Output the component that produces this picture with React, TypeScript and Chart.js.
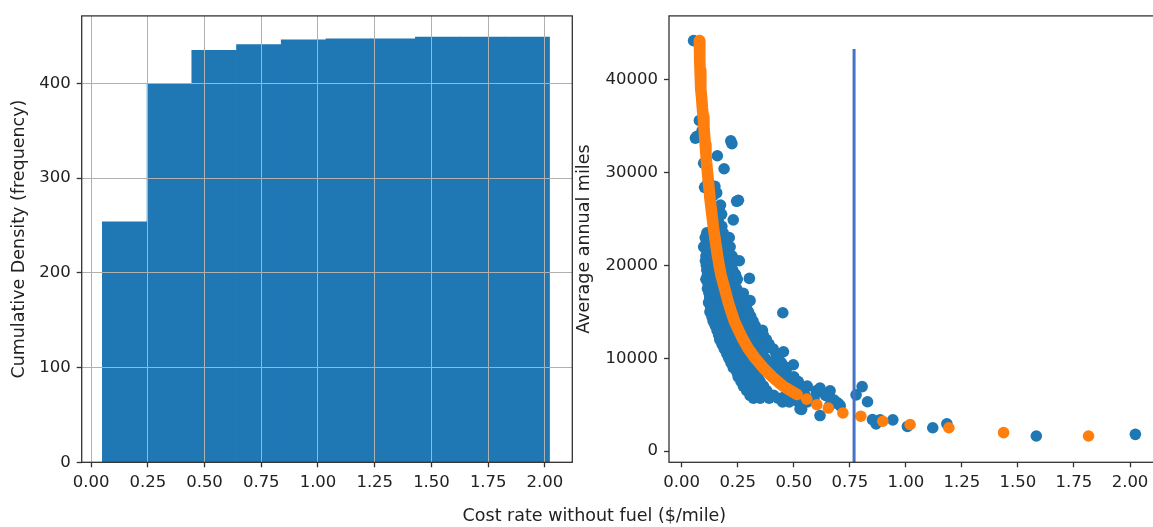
import React, { useEffect, useRef } from 'react';
import { Chart, registerables } from 'chart.js';

Chart.register(...registerables);

// ---------- Left panel: cumulative histogram ----------
const binEdges = [0.05, 0.247, 0.444, 0.641, 0.838, 1.035, 1.232, 1.429, 1.626, 1.823, 2.02];
const cumulativeCounts = [254, 400, 435, 441, 446, 447, 447, 449, 449, 449];
const histXTicks = [0, 0.25, 0.5, 0.75, 1.0, 1.25, 1.5, 1.75, 2.0];
const histYTicks = [0, 100, 200, 300, 400];

// ---------- Right panel: scatter ----------
const scatterXTicks = [0, 0.25, 0.5, 0.75, 1.0, 1.25, 1.5, 1.75, 2.0];
const scatterYTicks = [0, 10000, 20000, 30000, 40000];

// observed vehicles (cost rate, annual miles)
const observedPoints: [number, number][] = [
  [0.053, 44200], [0.079, 35600], [0.061, 33700], [0.068, 33900], [0.219, 33400], [0.224, 33100],
  [0.159, 31800], [0.189, 30400], [0.102, 28400], [0.108, 28500], [0.156, 27800], [0.148, 28500],
  [0.140, 27500], [0.245, 26900], [0.253, 27000], [0.230, 24900], [0.173, 26500], [0.168, 26000],
  [0.178, 25500], [0.179, 24200], [0.163, 24800], [0.152, 26300], [0.118, 29000], [0.125, 27500],
  [0.098, 31000], [0.091, 34500],
  [0.112, 23500], [0.128, 23500], [0.160, 23500], [0.185, 23500],
  [0.105, 23000], [0.120, 23000], [0.168, 23000], [0.195, 23000], [0.212, 23000],
  [0.110, 22500], [0.130, 22500], [0.172, 22500], [0.200, 22500],
  [0.098, 22000], [0.104, 22000], [0.120, 22000], [0.175, 22000], [0.198, 22000], [0.216, 22000],
  [0.112, 21500], [0.128, 21500], [0.180, 21500], [0.205, 21500],
  [0.108, 21000], [0.125, 21000], [0.182, 21000], [0.208, 21000], [0.225, 21000],
  [0.106, 20500], [0.119, 20500], [0.140, 20500], [0.190, 20500], [0.220, 20500], [0.240, 20500], [0.257, 20500],
  [0.110, 20000], [0.128, 20000], [0.145, 20000], [0.192, 20000], [0.215, 20000],
  [0.112, 19500], [0.130, 19500], [0.198, 19500], [0.228, 19500],
  [0.115, 19000], [0.132, 19000], [0.150, 19000], [0.202, 19000], [0.222, 19000], [0.240, 19000],
  [0.108, 18500], [0.126, 18500], [0.150, 18500], [0.212, 18500], [0.248, 18500],
  [0.118, 18000], [0.140, 18000], [0.158, 18000], [0.215, 18000], [0.235, 18000], [0.302, 18600],
  [0.115, 17500], [0.135, 17500], [0.160, 17500], [0.222, 17500], [0.245, 17500],
  [0.122, 17000], [0.145, 17000], [0.168, 17000], [0.228, 17000], [0.258, 17000], [0.275, 17000],
  [0.125, 16500], [0.150, 16500], [0.172, 16500], [0.238, 16500], [0.268, 16500],
  [0.120, 16000], [0.155, 16000], [0.180, 16000], [0.245, 16000], [0.278, 16000], [0.305, 16200],
  [0.130, 15500], [0.160, 15500], [0.185, 15500], [0.252, 15500], [0.288, 15500],
  [0.126, 15000], [0.134, 15000], [0.170, 15000], [0.195, 15000], [0.262, 15000], [0.298, 15000], [0.451, 14900],
  [0.135, 14500], [0.175, 14500], [0.200, 14500], [0.270, 14500], [0.308, 14500],
  [0.140, 14000], [0.180, 14000], [0.208, 14000], [0.280, 14000], [0.318, 14000],
  [0.150, 13500], [0.190, 13500], [0.215, 13500], [0.290, 13500], [0.328, 13500],
  [0.158, 13000], [0.198, 13000], [0.225, 13000], [0.298, 13000], [0.342, 13000], [0.360, 13000],
  [0.165, 12500], [0.205, 12500], [0.235, 12500], [0.310, 12500], [0.364, 12500],
  [0.170, 12000], [0.212, 12000], [0.245, 12000], [0.318, 12000], [0.350, 12000], [0.378, 12000],
  [0.180, 11500], [0.222, 11500], [0.255, 11500], [0.330, 11500], [0.390, 11500],
  [0.190, 11000], [0.230, 11000], [0.265, 11000], [0.342, 11000], [0.372, 11000], [0.408, 11000],
  [0.201, 10500], [0.242, 10500], [0.278, 10500], [0.358, 10500], [0.420, 10500], [0.454, 10700],
  [0.210, 10000], [0.252, 10000], [0.290, 10000], [0.372, 10000], [0.432, 10000],
  [0.220, 9500], [0.262, 9500], [0.300, 9500], [0.385, 9500], [0.410, 9700], [0.445, 9500], [0.498, 9300],
  [0.230, 9000], [0.272, 9000], [0.312, 9000], [0.400, 9000], [0.440, 9000], [0.470, 9000],
  [0.246, 8500], [0.285, 8500], [0.325, 8500], [0.418, 8500], [0.460, 8500],
  [0.252, 8000], [0.295, 8000], [0.340, 8000], [0.435, 8000], [0.480, 8000], [0.500, 8000],
  [0.265, 7500], [0.305, 7500], [0.350, 7500], [0.455, 7500], [0.520, 7500],
  [0.275, 7000], [0.315, 7000], [0.365, 7000], [0.480, 7000], [0.530, 7000], [0.560, 7000],
  [0.290, 6500], [0.330, 6500], [0.380, 6500], [0.500, 6500], [0.542, 6500], [0.600, 6500], [0.662, 6500], [0.609, 6400], [0.658, 6250],
  [0.305, 6000], [0.330, 6000], [0.379, 6300], [0.410, 6000], [0.454, 5800], [0.550, 6000], [0.617, 6800], [0.642, 6000], [0.778, 6060],
  [0.320, 5700], [0.350, 5700], [0.390, 5700], [0.430, 5700], [0.470, 5700], [0.500, 5700], [0.590, 5700],
  [0.450, 5300], [0.480, 5300], [0.520, 5300], [0.560, 5300], [0.692, 5240], [0.829, 5320],
  [0.660, 4900], [0.707, 4890], [0.528, 4540], [0.535, 4500], [0.617, 3830], [0.700, 5100], [0.680, 5500],
  [0.805, 6950], [0.851, 3400], [0.867, 2940], [0.885, 3370], [0.942, 3370], [1.007, 2660],
  [1.120, 2520], [1.183, 2940], [1.582, 1630], [2.024, 1810],
];

// fitted curve (dense part, drawn as a thick band) and its isolated points
const fittedDense: [number, number][] = [
  [0.079, 44200], [0.080, 43000], [0.081, 42000], [0.082, 41000], [0.084, 40000], [0.086, 39000],
  [0.089, 38000], [0.092, 37000], [0.096, 36000], [0.099, 35000], [0.102, 34000], [0.105, 33000],
  [0.108, 32000], [0.111, 31000], [0.115, 30000], [0.119, 29000], [0.123, 28000], [0.127, 27000],
  [0.132, 26000], [0.137, 25000], [0.142, 24000], [0.148, 23000], [0.154, 22000], [0.160, 21000],
  [0.167, 20000], [0.175, 19000], [0.186, 18000], [0.197, 17000], [0.208, 16000], [0.221, 15000],
  [0.235, 14000], [0.254, 13000], [0.274, 12000], [0.298, 11000], [0.328, 10000], [0.363, 9000],
  [0.404, 8000], [0.452, 7000], [0.515, 6100],
];
const fittedSparse: [number, number][] = [
  [0.558, 5600], [0.603, 5000], [0.654, 4640], [0.719, 4110], [0.799, 3760], [0.897, 3220],
  [1.019, 2870], [1.192, 2520], [1.436, 1990], [1.815, 1630],
];

const thresholdX = 0.769;
const thresholdYRange = [-1201, 43300];

// ---------- styling ----------
const FONT = 'DejaVu Sans';
const TEXT = '#222';
const SPINE = '#333';

const boxPlugin = {
  id: 'axesBox',
  afterDraw(chart: any) {
    const { ctx, chartArea: a } = chart;
    ctx.save();
    ctx.strokeStyle = SPINE;
    ctx.lineWidth = 1.3;
    ctx.strokeRect(a.left, a.top, a.right - a.left, a.bottom - a.top);
    ctx.restore();
  },
};

const toPts = (arr: [number, number][]) => arr.map(([x, y]) => ({ x, y }));

export default function App() {
  const leftRef = useRef<HTMLCanvasElement>(null);
  const rightRef = useRef<HTMLCanvasElement>(null);

  useEffect(() => {
    const binCenters = binEdges.slice(0, -1).map((e, i) => (e + binEdges[i + 1]) / 2);
    const left = new Chart(leftRef.current as HTMLCanvasElement, {
      type: 'bar',
      data: {
        datasets: [
          {
            data: binCenters.map((c, i) => ({ x: c, y: cumulativeCounts[i] })),
            backgroundColor: '#1f77b4',
            borderWidth: 0,
            barPercentage: 1,
            categoryPercentage: 1,
          } as any,
        ],
      },
      options: {
        animation: false,
        responsive: false,
        devicePixelRatio: 1,
        layout: { padding: { top: 10.7, right: 7.7, left: 0, bottom: 0 } },
        plugins: { legend: { display: false }, tooltip: { enabled: false } },
        scales: {
          x: {
            type: 'linear',
            min: -0.041,
            max: 2.1203,
            offset: false,
            afterBuildTicks: (s: any) => { s.ticks = histXTicks.map((v) => ({ value: v })); },
            afterFit: (s: any) => { s.height = 64.7; },
            ticks: {
              callback: (v: any) => Number(v).toFixed(2),
              font: { family: FONT, size: 16.5 },
              color: TEXT,
              padding: 6,
              maxRotation: 0,
              autoSkip: false,
            },
            grid: { z: 1, offset: false, color: '#b0b0b0', lineWidth: 1, tickColor: SPINE, tickLength: 5, tickWidth: 1.3 },
            border: { display: false },
          },
          y: {
            type: 'linear',
            min: 0,
            max: 471.3,
            afterBuildTicks: (s: any) => { s.ticks = histYTicks.map((v) => ({ value: v })); },
            afterFit: (s: any) => { s.width = 81.7; },
            ticks: {
              callback: (v: any) => String(v),
              font: { family: FONT, size: 16.5 },
              color: TEXT,
              padding: 6,
              autoSkip: false,
            },
            grid: { z: 1, color: '#b0b0b0', lineWidth: 1, tickColor: SPINE, tickLength: 5, tickWidth: 1.3 },
            border: { display: false },
            title: {
              display: true,
              text: 'Cumulative Density (frequency)',
              font: { family: FONT, size: 17.5 },
              color: TEXT,
              padding: { top: 8.9, bottom: 0 },
            },
          },
        },
      } as any,
      plugins: [boxPlugin],
    });

    const right = new Chart(rightRef.current as HTMLCanvasElement, {
      type: 'scatter',
      data: {
        datasets: [
          {
            data: thresholdYRange.map((y) => ({ x: thresholdX, y })),
            showLine: true,
            borderColor: '#4472c4',
            borderWidth: 3,
            pointRadius: 0,
            order: 0,
          },
          {
            data: toPts(fittedSparse),
            backgroundColor: '#ff7f0e',
            pointRadius: 5.8,
            borderWidth: 0,
            order: 1,
          },
          {
            data: toPts(fittedDense),
            showLine: true,
            borderColor: '#ff7f0e',
            backgroundColor: '#ff7f0e',
            borderWidth: 11.6,
            borderCapStyle: 'round',
            borderJoinStyle: 'round',
            pointRadius: 0,
            order: 2,
          },
          {
            data: toPts(observedPoints),
            backgroundColor: '#1f77b4',
            pointRadius: 5.8,
            borderWidth: 0,
            order: 3,
          },
        ] as any,
      },
      options: {
        animation: false,
        responsive: false,
        devicePixelRatio: 1,
        layout: { padding: { top: 10.3, right: 18.1, left: 0, bottom: 0 } },
        plugins: { legend: { display: false }, tooltip: { enabled: false } },
        scales: {
          x: {
            type: 'linear',
            min: -0.0567,
            max: 2.12,
            afterBuildTicks: (s: any) => { s.ticks = scatterXTicks.map((v) => ({ value: v })); },
            afterFit: (s: any) => { s.height = 64.7; },
            ticks: {
              callback: (v: any) => Number(v).toFixed(2),
              font: { family: FONT, size: 16.5 },
              color: TEXT,
              padding: 6,
              maxRotation: 0,
              autoSkip: false,
            },
            grid: { drawOnChartArea: false, tickColor: SPINE, tickLength: 5, tickWidth: 1.3 },
            border: { display: false },
          },
          y: {
            type: 'linear',
            min: -1201,
            max: 46858,
            afterBuildTicks: (s: any) => { s.ticks = scatterYTicks.map((v) => ({ value: v })); },
            afterFit: (s: any) => { s.width = 109; },
            ticks: {
              callback: (v: any) => String(v),
              font: { family: FONT, size: 16.5 },
              color: TEXT,
              padding: 6,
              autoSkip: false,
            },
            grid: { drawOnChartArea: false, tickColor: SPINE, tickLength: 5, tickWidth: 1.3 },
            border: { display: false },
            title: {
              display: true,
              text: 'Average annual miles',
              font: { family: FONT, size: 17.5 },
              color: TEXT,
              padding: { top: 13.7, bottom: 0 },
            },
          },
        },
      } as any,
      plugins: [boxPlugin],
    });

    return () => {
      left.destroy();
      right.destroy();
    };
  }, []);

  return (
    <div
      style={{
        position: 'absolute',
        left: 0,
        top: 0,
        width: 1153,
        height: 527,
        overflow: 'hidden',
        background: '#fff',
      }}
    >
      <canvas
        ref={leftRef}
        width={580}
        height={527}
        style={{ position: 'absolute', left: 0, top: 0, width: 580, height: 527 }}
      />
      <canvas
        ref={rightRef}
        width={615}
        height={527}
        style={{ position: 'absolute', left: 560, top: 0, width: 615, height: 527 }}
      />
      <div
        style={{
          position: 'absolute',
          left: 594.4,
          top: 507,
          transform: 'translateX(-50%)',
          fontFamily: FONT,
          fontSize: 17.5,
          lineHeight: '17.5px',
          whiteSpace: 'nowrap',
          color: TEXT,
        }}
      >
        Cost rate without fuel ($/mile)
      </div>
    </div>
  );
}
